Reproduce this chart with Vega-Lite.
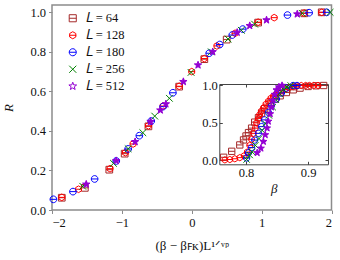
{
  "$schema": "https://vega.github.io/schema/vega-lite/v6.json",
  "width": 279.5,
  "height": 205,
  "autosize": {"type": "none"},
  "padding": {"left": 52, "top": 5, "right": 8, "bottom": 50},
  "background": "white",
  "config": {
    "view": {"stroke": "#8c8c8c", "strokeWidth": 1.5},
    "font": "Liberation Serif",
    "axis": {"labelFont": "Liberation Serif", "labelFontSize": 12.5, "labelColor": "#111111", "titleFont": "Liberation Serif", "titleFontSize": 13, "titleColor": "#111111", "titleFontWeight": "normal", "grid": false},
    "legend": {"orient": "none", "legendX": 14.5, "legendY": 7, "title": null, "padding": 0, "symbolSize": 50, "symbolStrokeWidth": 1, "labelFont": "Liberation Serif", "labelFontSize": 12.5, "labelColor": "#111111", "labelOffset": 6.5, "rowPadding": 4}
  },
  "datasets": {
    "main": [
      {"L": "64", "x": -1.86, "R": 0.062}, {"L": "64", "x": -1.53, "R": 0.112}, {"L": "64", "x": -1.18, "R": 0.204}, {"L": "64", "x": -0.96, "R": 0.285}, {"L": "64", "x": -0.62, "R": 0.423}, {"L": "64", "x": -0.18, "R": 0.624}, {"L": "64", "x": 0.18, "R": 0.763}, {"L": "64", "x": 0.5, "R": 0.862}, {"L": "64", "x": 0.95, "R": 0.948}, {"L": "64", "x": 1.61, "R": 0.995}, {"L": "64", "x": 1.86, "R": 1.0},
      {"L": "128", "x": -1.86, "R": 0.064}, {"L": "128", "x": -1.62, "R": 0.105}, {"L": "128", "x": -1.17, "R": 0.209}, {"L": "128", "x": -0.95, "R": 0.29}, {"L": "128", "x": -0.84, "R": 0.334}, {"L": "128", "x": -0.62, "R": 0.426}, {"L": "128", "x": -0.41, "R": 0.526}, {"L": "128", "x": -0.18, "R": 0.626}, {"L": "128", "x": 0.0, "R": 0.7}, {"L": "128", "x": 0.18, "R": 0.766}, {"L": "128", "x": 0.36, "R": 0.83}, {"L": "128", "x": 0.62, "R": 0.894}, {"L": "128", "x": 0.95, "R": 0.95}, {"L": "128", "x": 1.18, "R": 0.973}, {"L": "128", "x": 1.61, "R": 0.996}, {"L": "128", "x": 1.86, "R": 1.0},
      {"L": "180", "x": -1.98, "R": 0.054}, {"L": "180", "x": -1.7, "R": 0.093}, {"L": "180", "x": -1.39, "R": 0.157}, {"L": "180", "x": -1.08, "R": 0.248}, {"L": "180", "x": -0.91, "R": 0.309}, {"L": "180", "x": -0.75, "R": 0.376}, {"L": "180", "x": -0.58, "R": 0.45}, {"L": "180", "x": -0.41, "R": 0.523}, {"L": "180", "x": -0.27, "R": 0.593}, {"L": "180", "x": 0.25, "R": 0.793}, {"L": "180", "x": 0.4, "R": 0.837}, {"L": "180", "x": 0.58, "R": 0.885}, {"L": "180", "x": 0.73, "R": 0.915}, {"L": "180", "x": 1.37, "R": 0.986}, {"L": "180", "x": 1.68, "R": 0.998}, {"L": "180", "x": 1.93, "R": 1.0},
      {"L": "256", "x": -1.56, "R": 0.12}, {"L": "256", "x": -1.12, "R": 0.236}, {"L": "256", "x": -0.91, "R": 0.31}, {"L": "256", "x": -0.7, "R": 0.391}, {"L": "256", "x": -0.53, "R": 0.475}, {"L": "256", "x": -0.32, "R": 0.565}, {"L": "256", "x": -0.01, "R": 0.696}, {"L": "256", "x": 0.28, "R": 0.8}, {"L": "256", "x": 0.52, "R": 0.865}, {"L": "256", "x": 0.71, "R": 0.909}, {"L": "256", "x": 0.9, "R": 0.94}, {"L": "256", "x": 1.58, "R": 0.995}, {"L": "256", "x": 1.98, "R": 1.0},
      {"L": "512", "x": -1.51, "R": 0.13}, {"L": "512", "x": -1.08, "R": 0.249}, {"L": "512", "x": -0.81, "R": 0.345}, {"L": "512", "x": -0.59, "R": 0.447}, {"L": "512", "x": -0.45, "R": 0.505}, {"L": "512", "x": -0.37, "R": 0.536}, {"L": "512", "x": -0.12, "R": 0.649}, {"L": "512", "x": 0.09, "R": 0.733}, {"L": "512", "x": 0.3, "R": 0.8}, {"L": "512", "x": 0.65, "R": 0.898}, {"L": "512", "x": 0.83, "R": 0.932}, {"L": "512", "x": 1.07, "R": 0.961}, {"L": "512", "x": 1.51, "R": 0.991}
    ],
    "inset": [
      {"L": "64", "beta": 0.764, "R": 0.04}, {"L": "64", "beta": 0.777, "R": 0.12}, {"L": "64", "beta": 0.79, "R": 0.205}, {"L": "64", "beta": 0.796, "R": 0.272}, {"L": "64", "beta": 0.8, "R": 0.325}, {"L": "64", "beta": 0.804, "R": 0.37}, {"L": "64", "beta": 0.809, "R": 0.43}, {"L": "64", "beta": 0.814, "R": 0.51}, {"L": "64", "beta": 0.82, "R": 0.57}, {"L": "64", "beta": 0.825, "R": 0.63}, {"L": "64", "beta": 0.83, "R": 0.69}, {"L": "64", "beta": 0.839, "R": 0.764}, {"L": "64", "beta": 0.847, "R": 0.818}, {"L": "64", "beta": 0.855, "R": 0.862}, {"L": "64", "beta": 0.865, "R": 0.906}, {"L": "64", "beta": 0.876, "R": 0.942}, {"L": "64", "beta": 0.887, "R": 0.965}, {"L": "64", "beta": 0.9, "R": 0.987}, {"L": "64", "beta": 0.913, "R": 0.996}, {"L": "64", "beta": 0.925, "R": 1.0},
      {"L": "128", "beta": 0.766, "R": 0.005}, {"L": "128", "beta": 0.774, "R": 0.01}, {"L": "128", "beta": 0.782, "R": 0.02}, {"L": "128", "beta": 0.79, "R": 0.035}, {"L": "128", "beta": 0.797, "R": 0.06}, {"L": "128", "beta": 0.802, "R": 0.11}, {"L": "128", "beta": 0.806, "R": 0.2}, {"L": "128", "beta": 0.809, "R": 0.28}, {"L": "128", "beta": 0.812, "R": 0.36}, {"L": "128", "beta": 0.815, "R": 0.43}, {"L": "128", "beta": 0.817, "R": 0.5}, {"L": "128", "beta": 0.82, "R": 0.56}, {"L": "128", "beta": 0.822, "R": 0.61}, {"L": "128", "beta": 0.825, "R": 0.66}, {"L": "128", "beta": 0.828, "R": 0.7}, {"L": "128", "beta": 0.832, "R": 0.75}, {"L": "128", "beta": 0.836, "R": 0.79}, {"L": "128", "beta": 0.84, "R": 0.83}, {"L": "128", "beta": 0.844, "R": 0.855}, {"L": "128", "beta": 0.848, "R": 0.88}, {"L": "128", "beta": 0.852, "R": 0.906}, {"L": "128", "beta": 0.857, "R": 0.93}, {"L": "128", "beta": 0.863, "R": 0.952}, {"L": "128", "beta": 0.869, "R": 0.97}, {"L": "128", "beta": 0.876, "R": 0.985}, {"L": "128", "beta": 0.882, "R": 0.993}, {"L": "128", "beta": 0.889, "R": 1.0}, {"L": "128", "beta": 0.896, "R": 1.0}, {"L": "128", "beta": 0.902, "R": 1.0}, {"L": "128", "beta": 0.909, "R": 1.0}, {"L": "128", "beta": 0.916, "R": 1.0},
      {"L": "180", "beta": 0.801, "R": 0.03}, {"L": "180", "beta": 0.804, "R": 0.1}, {"L": "180", "beta": 0.809, "R": 0.17}, {"L": "180", "beta": 0.814, "R": 0.27}, {"L": "180", "beta": 0.82, "R": 0.36}, {"L": "180", "beta": 0.825, "R": 0.45}, {"L": "180", "beta": 0.83, "R": 0.54}, {"L": "180", "beta": 0.836, "R": 0.64}, {"L": "180", "beta": 0.841, "R": 0.73}, {"L": "180", "beta": 0.849, "R": 0.82}, {"L": "180", "beta": 0.857, "R": 0.9}, {"L": "180", "beta": 0.865, "R": 0.965}, {"L": "180", "beta": 0.876, "R": 1.0}, {"L": "180", "beta": 0.882, "R": 1.0},
      {"L": "256", "beta": 0.801, "R": 0.01}, {"L": "256", "beta": 0.806, "R": 0.07}, {"L": "256", "beta": 0.81, "R": 0.11}, {"L": "256", "beta": 0.815, "R": 0.2}, {"L": "256", "beta": 0.821, "R": 0.29}, {"L": "256", "beta": 0.826, "R": 0.4}, {"L": "256", "beta": 0.831, "R": 0.49}, {"L": "256", "beta": 0.837, "R": 0.6}, {"L": "256", "beta": 0.843, "R": 0.71}, {"L": "256", "beta": 0.848, "R": 0.81}, {"L": "256", "beta": 0.854, "R": 0.89}, {"L": "256", "beta": 0.86, "R": 0.95}, {"L": "256", "beta": 0.866, "R": 0.98}, {"L": "256", "beta": 0.872, "R": 1.0},
      {"L": "512", "beta": 0.818, "R": 0.1}, {"L": "512", "beta": 0.824, "R": 0.16}, {"L": "512", "beta": 0.828, "R": 0.25}, {"L": "512", "beta": 0.831, "R": 0.34}, {"L": "512", "beta": 0.834, "R": 0.43}, {"L": "512", "beta": 0.836, "R": 0.52}, {"L": "512", "beta": 0.839, "R": 0.62}, {"L": "512", "beta": 0.841, "R": 0.71}, {"L": "512", "beta": 0.843, "R": 0.8}, {"L": "512", "beta": 0.846, "R": 0.88}, {"L": "512", "beta": 0.849, "R": 0.94}, {"L": "512", "beta": 0.853, "R": 0.98}, {"L": "512", "beta": 0.858, "R": 1.0}
    ]
  },
  "layer": [
    {
      "data": {"name": "main"},
      "mark": {"type": "point", "size": 45, "strokeWidth": 1, "opacity": 1},
      "encoding": {
        "x": {"field": "x", "type": "quantitative", "scale": {"domain": [-2, 2], "nice": false, "zero": false},
          "axis": {"orient": "bottom", "values": [-2, -1, 0, 1, 2], "format": "d", "domain": false, "tickSize": 3.5, "tickColor": "#8c8c8c", "labelPadding": 3, "labelFont": "Liberation Serif", "titleFont": "Liberation Serif", "title": "(β − βꜰᴋ)L¹ᐟᵛᵖ", "titlePadding": 10}},
        "y": {"field": "R", "type": "quantitative", "scale": {"domain": [0, 1.037], "nice": false},
          "axis": {"orient": "left", "values": [0, 0.2, 0.4, 0.6, 0.8, 1.0], "format": ".1f", "domain": false, "tickSize": 3.5, "tickColor": "#8c8c8c", "labelPadding": 3, "labelFont": "Liberation Serif", "titleFont": "Liberation Serif", "title": "R", "titleFontStyle": "italic", "titlePadding": 14}},
        "stroke": {"field": "L", "type": "nominal",
          "scale": {"domain": ["64", "128", "180", "256", "512"], "range": ["#a52a2a", "#ff0000", "#0000ff", "#008000", "#9400d3"]},
          "legend": {"orient": "none", "legendX": 14.5, "legendY": 7, "title": null, "labelFont": "Liberation Serif", "labelExpr": "'𝐿 = ' + datum.label"}},
        "shape": {"field": "L", "type": "nominal",
          "scale": {"domain": ["64", "128", "180", "256", "512"], "range": [
            "M-1,-1H1V1H-1Z M-1,0H1",
            "M0,-1L0.866,-0.5L0.866,0.5L0,1L-0.866,0.5L-0.866,-0.5Z M-1,0H1",
            "M-1,0A1,1 0 1,0 1,0A1,1 0 1,0 -1,0Z M-1,0H1",
            "M-1,-1L1,1M-1,1L1,-1",
            "M0,-1.15L0.276,-0.38L1.094,-0.355L0.447,0.145L0.676,0.93L0,0.47L-0.676,0.93L-0.447,0.145L-1.094,-0.355L-0.276,-0.38Z"]},
          "legend": {"orient": "none", "legendX": 14.5, "legendY": 7, "title": null, "labelFont": "Liberation Serif", "labelExpr": "'𝐿 = ' + datum.label"}},
        "fill": {"condition": {"test": "datum.L === '512' || datum.value === '512'", "value": "#9400d3"}, "value": "transparent"}
      }
    },
    {
      "data": {"name": "inset"},
      "layer": [
        {
          "transform": [{"filter": "datum.L === '64' || datum.L === '128'"}],
          "mark": {"type": "point", "size": 40, "strokeWidth": 1, "opacity": 1},
          "encoding": {
            "x": {"field": "beta", "type": "quantitative", "scale": {"domain": [0.757, 0.932], "nice": false, "zero": false, "range": [167.3, 276]},
              "axis": {"orient": "bottom", "offset": -45.7, "values": [0.8, 0.9], "format": ".1f", "domainColor": "#444444", "domainWidth": 1, "tickColor": "#444444", "tickSize": -3, "labelPadding": 5, "labelFont": "Liberation Serif", "titleFont": "Liberation Serif", "title": "β", "titleFontStyle": "italic", "titlePadding": 4}},
            "y": {"field": "R", "type": "quantitative", "scale": {"domain": [-0.054, 1.02], "nice": false, "zero": false, "range": [159.3, 79]},
              "axis": {"orient": "left", "offset": -167.3, "values": [0, 0.5, 1], "format": ".1f", "domainColor": "#444444", "domainWidth": 1, "tickColor": "#444444", "tickSize": -3, "labelPadding": 5, "labelFont": "Liberation Serif", "title": null}},
            "stroke": {"field": "L", "type": "nominal"},
            "shape": {"field": "L", "type": "nominal"},
            "fill": {"condition": {"test": "datum.L === '512' || datum.value === '512'", "value": "#9400d3"}, "value": "transparent"}
          }
        },
        {
          "transform": [{"filter": "datum.L !== '64' && datum.L !== '128'"}],
          "mark": {"type": "point", "size": 40, "strokeWidth": 1, "opacity": 1},
          "encoding": {
            "x": {"field": "beta", "type": "quantitative",
              "axis": {"orient": "top", "offset": -79, "values": [0.8, 0.9], "labels": false, "domainColor": "#444444", "domainWidth": 1, "tickColor": "#444444", "tickSize": -3, "title": null}},
            "y": {"field": "R", "type": "quantitative",
              "axis": {"orient": "right", "offset": -3.5, "values": [0, 0.5, 1], "labels": false, "domainColor": "#444444", "domainWidth": 1, "tickColor": "#444444", "tickSize": -3, "title": null}},
            "stroke": {"field": "L", "type": "nominal"},
            "shape": {"field": "L", "type": "nominal"},
            "fill": {"condition": {"test": "datum.L === '512' || datum.value === '512'", "value": "#9400d3"}, "value": "transparent"}
          }
        }
      ],
      "resolve": {"axis": {"x": "independent", "y": "independent"}}
    }
  ],
  "resolve": {"scale": {"x": "independent", "y": "independent"}}
}
